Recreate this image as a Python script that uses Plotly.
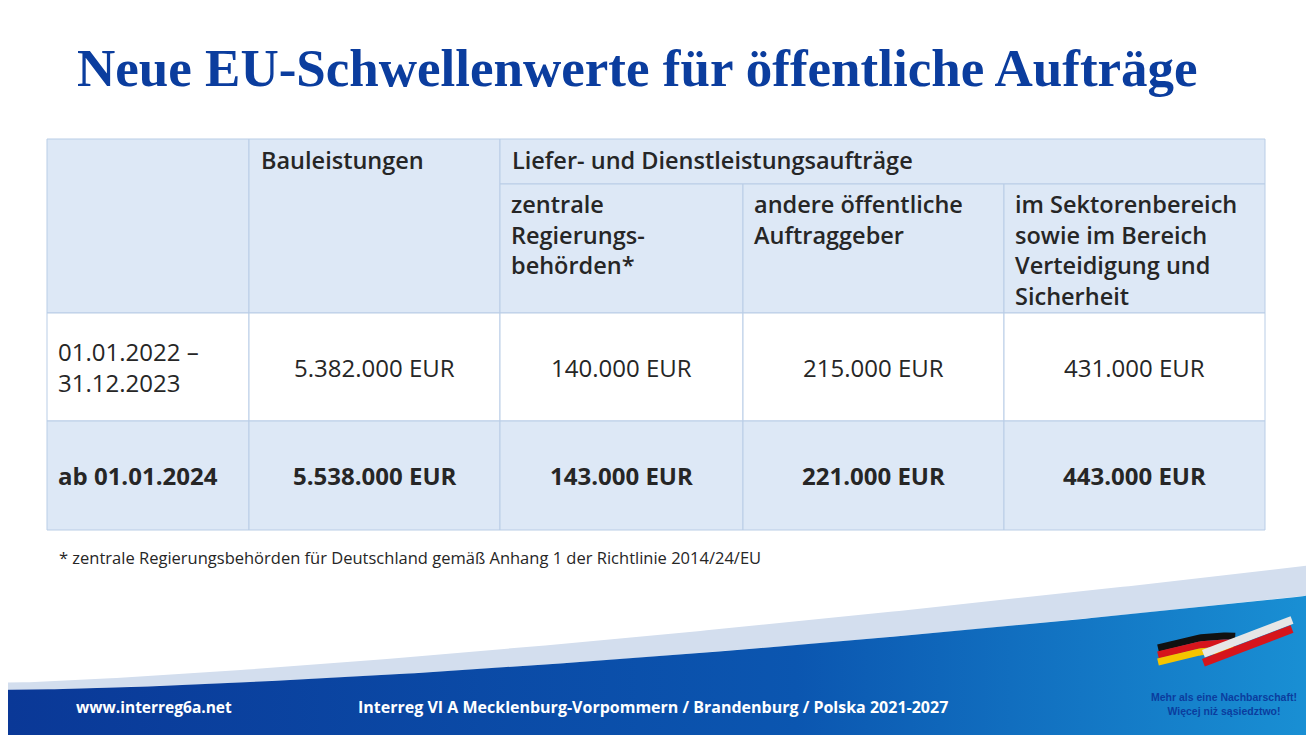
import plotly.graph_objects as go
import numpy as np

title = "Neue EU-Schwellenwerte für öffentliche Aufträge"
col_headers = ["", "Bauleistungen", "zentrale<br>Regierungs-<br>behörden*", "andere öffentliche<br>Auftraggeber",
               "im Sektorenbereich<br>sowie im Bereich<br>Verteidigung und<br>Sicherheit"]
group_header = "Liefer- und Dienstleistungsaufträge"
periods = ["01.01.2022 –<br>31.12.2023", "ab 01.01.2024"]
bau = ["5.382.000 EUR", "5.538.000 EUR"]
zentral = ["140.000 EUR", "143.000 EUR"]
andere = ["215.000 EUR", "221.000 EUR"]
sektor = ["431.000 EUR", "443.000 EUR"]
footnote = "* zentrale Regierungsbehörden für Deutschland gemäß Anhang 1 der Richtlinie 2014/24/EU"

xe = [47, 249, 500, 743, 1004, 1265]
ye = [139, 184, 313, 421, 530]
LB = "#dde8f6"; BD = "#b9cde6"; TX = "#262626"
FONT = "Open Sans"
HS = 23.5; DS = 24

fig = go.Figure()
shapes = []; ann = []
def rect(x0, y0, x1, y1, fill):
    shapes.append(dict(type="rect", x0=x0, x1=x1, y0=y0, y1=y1, fillcolor=fill,
                       line=dict(color=BD, width=1), layer="below"))
rect(xe[0], ye[0], xe[1], ye[2], LB)
rect(xe[1], ye[0], xe[2], ye[2], LB)
rect(xe[2], ye[0], xe[5], ye[1], LB)
for i in range(2, 5):
    rect(xe[i], ye[1], xe[i+1], ye[2], LB)
hfont = dict(size=HS, color=TX, family=FONT, weight=600)
ann.append(dict(x=xe[1]+10, y=ye[0]+3, text=col_headers[1], xanchor="left", yanchor="top", showarrow=False, font=hfont))
ann.append(dict(x=xe[2]+10, y=ye[0]+3, text=group_header, xanchor="left", yanchor="top", showarrow=False, font=hfont))
for i in range(2, 5):
    ann.append(dict(x=xe[i]+9, y=ye[1]+2, text=col_headers[i], xanchor="left", yanchor="top", align="left",
                    showarrow=False, font=hfont))
rows = list(zip(periods, bau, zentral, andere, sektor))
for r, row in enumerate(rows):
    fill = "white" if r == 0 else LB
    y0, y1 = ye[2+r], ye[3+r]
    for c in range(5):
        rect(xe[c], y0, xe[c+1], y1, fill)
        txt = row[c] if r == 0 else "<b>" + row[c] + "</b>"
        if c == 0:
            ann.append(dict(x=xe[0]+9, y=(y0+y1)/2, text=txt, xanchor="left", yanchor="middle", align="left",
                            showarrow=False, font=dict(size=DS, color=TX, family=FONT)))
        else:
            ann.append(dict(x=(xe[c]+xe[c+1])/2, y=(y0+y1)/2, text=txt, xanchor="center", yanchor="middle",
                            showarrow=False, font=dict(size=DS, color=TX, family=FONT)))

ann.append(dict(x=75, y=68, text="<b>"+title+"</b>", xanchor="left", yanchor="middle", showarrow=False,
                font=dict(size=53, color="#0b3d9e", family="Liberation Serif")))
ann.append(dict(x=57, y=557, text=footnote, xanchor="left", yanchor="middle", showarrow=False,
                font=dict(size=16.5, color=TX, family=FONT)))

xs = np.linspace(-20, 1340, 220)
u = np.clip(xs/1314, 0, None)
band_top = 683 - 118*u**1.3
blue_top = 690 - 95*u**1.5
fig.add_trace(go.Scatter(x=np.r_[xs, xs[::-1]], y=np.r_[band_top, blue_top[::-1]], fill="toself",
                         fillcolor="#d3deee", line=dict(width=0), mode="lines", hoverinfo="skip"))
fig.add_trace(go.Scatter(x=np.r_[xs, [1340, -20]], y=np.r_[blue_top, [745, 745]], fill="toself",
                         fillgradient=dict(type="horizontal", colorscale=[[0, "#0a3796"], [0.6, "#0b56b0"], [1, "#1a93d6"]]),
                         line=dict(width=0), mode="lines", hoverinfo="skip"))
ann.append(dict(x=74, y=707, text="<b>www.interreg6a.net</b>", xanchor="left", yanchor="middle", showarrow=False,
                font=dict(size=15.5, color="white", family=FONT)))
ann.append(dict(x=356, y=707, text="<b>Interreg VI A Mecklenburg-Vorpommern / Brandenburg / Polska 2021-2027</b>",
                xanchor="left", yanchor="middle", showarrow=False, font=dict(size=16, color="white", family=FONT)))
ann.append(dict(x=1224, y=704, text="<b>Mehr als eine Nachbarschaft!<br>Więcej niż sąsiedztwo!</b>", xanchor="center",
                yanchor="middle", showarrow=False, font=dict(size=10.5, color="#0b3d9e", family="Liberation Sans")))
lx = np.linspace(1158, 1292, 60)
for off, col in [(0, "#111111"), (7, "#d6151c"), (14, "#f5c400")]:
    fig.add_trace(go.Scatter(x=lx[:35], y=648+off - 12*np.sin((lx[:35]-1158)/134*np.pi), mode="lines",
                             line=dict(color=col, width=7), hoverinfo="skip"))
fig.add_trace(go.Scatter(x=lx[20:], y=655 - 35*((lx[20:]-1200)/92), mode="lines", line=dict(color="#e6e6e6", width=8), hoverinfo="skip"))
fig.add_trace(go.Scatter(x=lx[20:], y=664 - 35*((lx[20:]-1200)/92), mode="lines", line=dict(color="#d6151c", width=8), hoverinfo="skip"))

fig.update_layout(width=1314, height=735, margin=dict(l=0, r=0, t=0, b=0), showlegend=False,
                  plot_bgcolor="white", paper_bgcolor="white", shapes=shapes, annotations=ann,
                  xaxis=dict(range=[8, 1322], visible=False, fixedrange=True),
                  yaxis=dict(range=[743, 8], visible=False, fixedrange=True))
fig.write_html("out.html")
